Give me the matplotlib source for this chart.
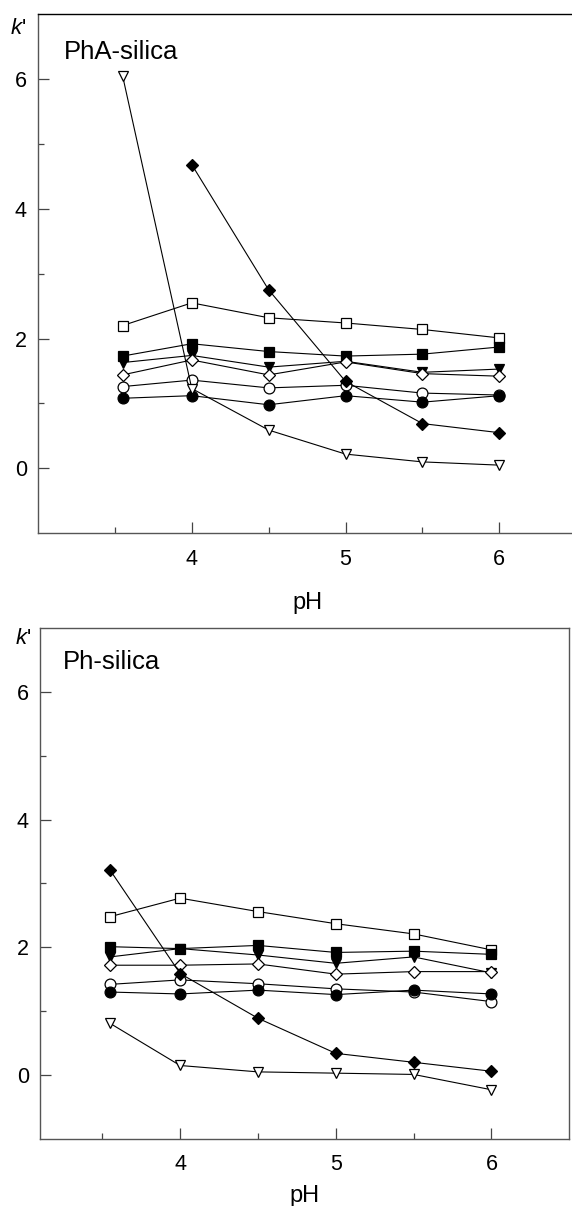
import matplotlib
matplotlib.use("Agg")
import matplotlib.pyplot as plt
import numpy as np

plt.rcParams['font.family'] = ['Liberation Sans', 'DejaVu Sans']
plt.rcParams['mathtext.fontset'] = 'custom'
plt.rcParams['mathtext.it'] = 'Liberation Sans:italic'
plt.rcParams['mathtext.rm'] = 'Liberation Sans'

# pH values
ph = [3.55, 4.0, 4.5, 5.0, 5.5, 6.0]

# PhA-silica (top)
pha_open_sq = [2.20, 2.55, 2.32, 2.24, 2.14, 2.01]
pha_fill_sq = [1.73, 1.92, 1.80, 1.73, 1.76, 1.87]
pha_fill_tri = [1.63, 1.74, 1.56, 1.65, 1.48, 1.53]
pha_open_dia = [1.44, 1.67, 1.44, 1.64, 1.46, 1.42]
pha_open_circ = [1.26, 1.36, 1.24, 1.28, 1.16, 1.13]
pha_fill_circ = [1.08, 1.12, 0.98, 1.12, 1.02, 1.12]
pha_fill_dia = [np.nan, 4.68, 2.75, 1.34, 0.69, 0.55]
pha_open_tri = [6.05, 1.23, 0.59, 0.22, 0.10, 0.05]

# Ph-silica (bottom)
ph_open_sq = [2.48, 2.77, 2.56, 2.37, 2.21, 1.96]
ph_fill_sq = [2.01, 1.98, 2.03, 1.92, 1.94, 1.89]
ph_fill_tri = [1.85, 1.98, 1.88, 1.75, 1.85, 1.60]
ph_open_dia = [1.72, 1.72, 1.74, 1.58, 1.62, 1.62]
ph_open_circ = [1.42, 1.49, 1.43, 1.35, 1.30, 1.15]
ph_fill_circ = [1.30, 1.27, 1.33, 1.26, 1.33, 1.27]
ph_fill_dia = [3.21, 1.59, 0.89, 0.34, 0.20, 0.06]
ph_open_tri = [0.81, 0.15, 0.05, 0.03, 0.01, -0.23]

# marker styles: (marker, facecolor, size)
styles = {
    'open_sq': ('s', 'white', 6.8),
    'fill_sq': ('s', 'black', 6.8),
    'fill_tri': ('v', 'black', 7.3),
    'open_dia': ('D', 'white', 6.0),
    'open_circ': ('o', 'white', 7.8),
    'fill_circ': ('o', 'black', 7.8),
    'fill_dia': ('D', 'black', 6.0),
    'open_tri': ('v', 'white', 7.3),
}

fig = plt.figure(figsize=(5.72, 12.06), dpi=100)
ax1 = fig.add_axes([0.0664, 0.5578, 0.941, 0.4306])
ax2 = fig.add_axes([0.0699, 0.0556, 0.9254, 0.4237])

panels = [
    (ax1, 'PhA-silica', (3.0, 6.5),
     [('open_sq', pha_open_sq), ('fill_sq', pha_fill_sq), ('fill_tri', pha_fill_tri),
      ('open_dia', pha_open_dia), ('open_circ', pha_open_circ), ('fill_circ', pha_fill_circ),
      ('fill_dia', pha_fill_dia), ('open_tri', pha_open_tri)],
     (0.049, 0.913), (-0.052, 0.962), 16),
    (ax2, 'Ph-silica', (3.1, 6.5),
     [('open_sq', ph_open_sq), ('fill_sq', ph_fill_sq), ('fill_tri', ph_fill_tri),
      ('open_dia', ph_open_dia), ('open_circ', ph_open_circ), ('fill_circ', ph_fill_circ),
      ('fill_dia', ph_fill_dia), ('open_tri', ph_open_tri)],
     (0.0435, 0.919), (-0.047, 0.968), 7),
]

for ax, name, xlim, series, name_pos, k_pos, lpad in panels:
    for key, vals in series:
        m, fc, ms = styles[key]
        ax.plot(ph, vals, color='black', lw=0.8, marker=m, markersize=ms,
                markerfacecolor=fc, markeredgecolor='black', markeredgewidth=0.9)
    ax.set_xlim(*xlim)
    ax.set_ylim(-1, 7)
    ax.set_xticks([4, 5, 6])
    ax.set_xticks([3.5, 4.5, 5.5], minor=True)
    ax.set_yticks([0, 2, 4, 6])
    ax.set_yticks([1, 3, 5], minor=True)
    ax.tick_params(which='both', direction='in', labelsize=15.5, color='#444444')
    ax.tick_params(which='major', length=8, width=0.9)
    ax.tick_params(which='minor', length=4.5, width=0.9)
    ax.tick_params(axis='x', which='major', pad=11)
    ax.tick_params(axis='y', which='major', pad=8)
    for sp in ax.spines.values():
        sp.set_color('#555555')
        sp.set_linewidth(1.0)
    ax.set_xlabel('pH', fontsize=17, labelpad=lpad)
    ax.text(name_pos[0], name_pos[1], name, transform=ax.transAxes,
            fontsize=18.5, ha='left', va='baseline')
    ax.text(k_pos[0], k_pos[1], r"$k$'", transform=ax.transAxes,
            fontsize=16, ha='left', va='baseline')

ax1.spines['top'].set_color('black')

fig.savefig('out.png', dpi=100)
